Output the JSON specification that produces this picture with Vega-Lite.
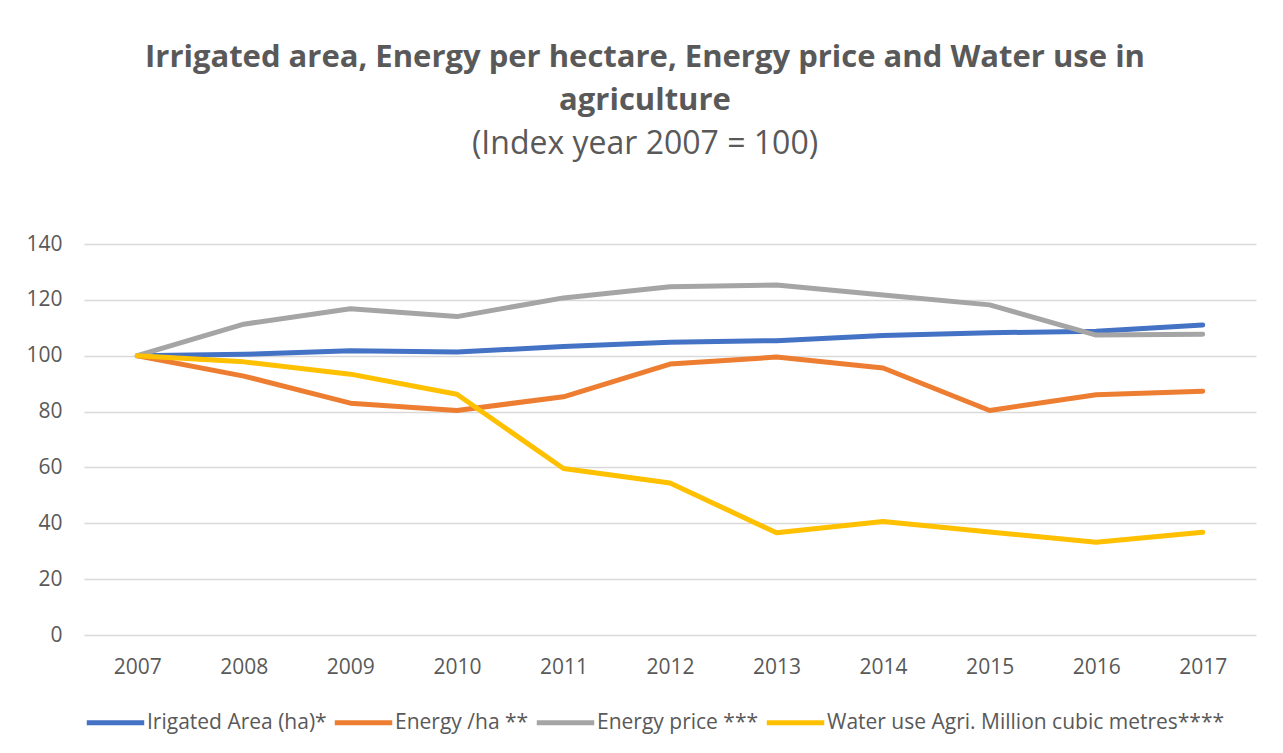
{
  "$schema": "https://vega.github.io/schema/vega-lite/v6.json",
  "width": 1172,
  "height": 391,
  "autosize": "none",
  "padding": {"left": 84, "top": 244, "right": 27, "bottom": 118},
  "background": "white",
  "title": {
    "text": ["Irrigated area, Energy per hectare, Energy price and Water use in", "agriculture"],
    "subtitle": "(Index year 2007 = 100)",
    "anchor": "middle",
    "dx": -25,
    "offset": 72,
    "font": "Open Sans",
    "fontSize": 31,
    "fontWeight": "bold",
    "color": "#595959",
    "lineHeight": 43,
    "subtitleFont": "Open Sans",
    "subtitleFontSize": 32,
    "subtitleColor": "#595959",
    "subtitlePadding": 12
  },
  "data": {
    "values": [
      {"year": "2007", "series": "Irigated Area (ha)*", "value": 100},
      {"year": "2008", "series": "Irigated Area (ha)*", "value": 100.5},
      {"year": "2009", "series": "Irigated Area (ha)*", "value": 101.8},
      {"year": "2010", "series": "Irigated Area (ha)*", "value": 101.3},
      {"year": "2011", "series": "Irigated Area (ha)*", "value": 103.3},
      {"year": "2012", "series": "Irigated Area (ha)*", "value": 104.8},
      {"year": "2013", "series": "Irigated Area (ha)*", "value": 105.4},
      {"year": "2014", "series": "Irigated Area (ha)*", "value": 107.2},
      {"year": "2015", "series": "Irigated Area (ha)*", "value": 108.2},
      {"year": "2016", "series": "Irigated Area (ha)*", "value": 108.8},
      {"year": "2017", "series": "Irigated Area (ha)*", "value": 111.0},
      {"year": "2007", "series": "Energy /ha **", "value": 100},
      {"year": "2008", "series": "Energy /ha **", "value": 92.7},
      {"year": "2009", "series": "Energy /ha **", "value": 83.0},
      {"year": "2010", "series": "Energy /ha **", "value": 80.4},
      {"year": "2011", "series": "Energy /ha **", "value": 85.3},
      {"year": "2012", "series": "Energy /ha **", "value": 97.0},
      {"year": "2013", "series": "Energy /ha **", "value": 99.5},
      {"year": "2014", "series": "Energy /ha **", "value": 95.6},
      {"year": "2015", "series": "Energy /ha **", "value": 80.4},
      {"year": "2016", "series": "Energy /ha **", "value": 86.0},
      {"year": "2017", "series": "Energy /ha **", "value": 87.3},
      {"year": "2007", "series": "Energy price ***", "value": 100},
      {"year": "2008", "series": "Energy price ***", "value": 111.3},
      {"year": "2009", "series": "Energy price ***", "value": 116.8},
      {"year": "2010", "series": "Energy price ***", "value": 114.0},
      {"year": "2011", "series": "Energy price ***", "value": 120.7},
      {"year": "2012", "series": "Energy price ***", "value": 124.7},
      {"year": "2013", "series": "Energy price ***", "value": 125.3},
      {"year": "2014", "series": "Energy price ***", "value": 121.7},
      {"year": "2015", "series": "Energy price ***", "value": 118.2},
      {"year": "2016", "series": "Energy price ***", "value": 107.4},
      {"year": "2017", "series": "Energy price ***", "value": 107.7},
      {"year": "2007", "series": "Water use Agri. Million cubic metres****", "value": 100},
      {"year": "2008", "series": "Water use Agri. Million cubic metres****", "value": 97.8},
      {"year": "2009", "series": "Water use Agri. Million cubic metres****", "value": 93.4},
      {"year": "2010", "series": "Water use Agri. Million cubic metres****", "value": 86.2},
      {"year": "2011", "series": "Water use Agri. Million cubic metres****", "value": 59.6},
      {"year": "2012", "series": "Water use Agri. Million cubic metres****", "value": 54.4},
      {"year": "2013", "series": "Water use Agri. Million cubic metres****", "value": 36.6},
      {"year": "2014", "series": "Water use Agri. Million cubic metres****", "value": 40.6},
      {"year": "2015", "series": "Water use Agri. Million cubic metres****", "value": 36.9},
      {"year": "2016", "series": "Water use Agri. Million cubic metres****", "value": 33.2},
      {"year": "2017", "series": "Water use Agri. Million cubic metres****", "value": 36.8}
    ]
  },
  "mark": {"type": "line", "strokeWidth": 5, "strokeCap": "round", "strokeJoin": "round"},
  "encoding": {
    "x": {
      "field": "year",
      "type": "ordinal",
      "scale": {"type": "point", "padding": 0.5},
      "axis": {
        "title": null,
        "labelAngle": 0,
        "ticks": false,
        "domain": false,
        "grid": false,
        "labelPadding": 21,
        "labelFont": "Open Sans",
        "labelFontSize": 21,
        "labelColor": "#595959"
      }
    },
    "y": {
      "field": "value",
      "type": "quantitative",
      "scale": {"domain": [0, 140], "nice": false},
      "axis": {
        "title": null,
        "values": [0, 20, 40, 60, 80, 100, 120, 140],
        "ticks": false,
        "domain": false,
        "gridColor": "#D9D9D9",
        "gridWidth": 1.5,
        "labelPadding": 22,
        "labelFont": "Open Sans",
        "labelFontSize": 21,
        "labelColor": "#595959"
      }
    },
    "color": {
      "field": "series",
      "type": "nominal",
      "scale": {
        "domain": ["Irigated Area (ha)*", "Energy /ha **", "Energy price ***", "Water use Agri. Million cubic metres****"],
        "range": ["#4472C4", "#ED7D31", "#A5A5A5", "#FFC000"]
      },
      "legend": {
        "title": null,
        "orient": "bottom",
        "direction": "horizontal",
        "offset": 14,
        "symbolType": "stroke",
        "symbolSize": 3300,
        "symbolStrokeWidth": 5,
        "labelFont": "Open Sans",
        "labelFontSize": 21,
        "labelColor": "#595959",
        "labelOffset": 0,
        "columnPadding": -3,
        "labelLimit": 600
      }
    }
  },
  "config": {"view": {"stroke": null}}
}
